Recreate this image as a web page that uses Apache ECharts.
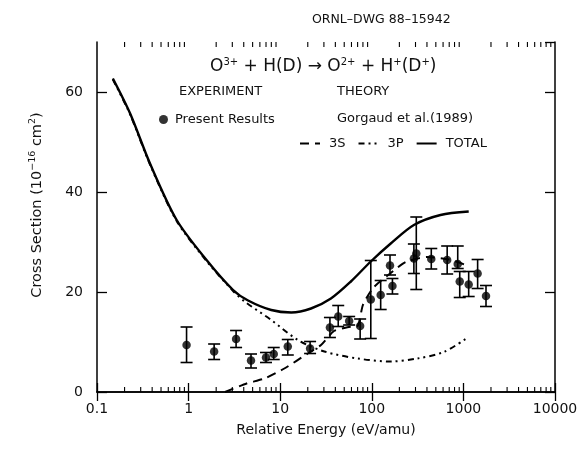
<!DOCTYPE html>
<html><head><meta charset="utf-8">
<script src="https://cdn.jsdelivr.net/npm/echarts@6/dist/echarts.min.js"></script>
<style>html,body{margin:0;padding:0;background:#fff}#c{width:588px;height:449px}</style>
</head><body><div id="c"></div>
<script>
// Experimental data (Present Results)
const expEnergy = [0.95, 1.9, 3.3, 4.8, 7.0, 8.5, 12.1, 21.2, 34.9, 43, 56.6, 74.6, 97.5, 125, 158, 168, 288, 306, 446, 665, 867, 912, 1142, 1430, 1765];
const expValue  = [9.4, 8.1, 10.6, 6.3, 6.9, 7.6, 9.1, 8.7, 12.9, 15.1, 14.2, 13.2, 18.5, 19.4, 25.3, 21.2, 26.7, 27.7, 26.6, 26.4, 25.6, 22.1, 21.5, 23.7, 19.2];
const expLow    = [5.9, 6.5, 8.9, 4.8, 5.9, 6.5, 7.4, 7.7, 10.9, 13.1, 13.4, 10.6, 10.7, 16.5, 23.4, 19.6, 23.7, 20.5, 24.6, 23.6, 24.7, 18.9, 19.1, 20.7, 17.1];
const expHigh   = [13.0, 9.6, 12.3, 7.6, 7.9, 8.9, 10.5, 10.1, 14.9, 17.3, 15.1, 14.6, 26.3, 22.3, 27.4, 22.7, 29.6, 35.0, 28.7, 29.2, 29.2, 24.1, 24.1, 26.5, 21.3];

// Theory (Gorgaud et al. 1989)
const totalEnergy = [0.149, 0.23, 0.379, 0.741, 1.57, 3.06, 4.46, 7.98, 13.2, 21.7, 35.8, 59.1, 97.5, 161, 288, 562, 1143];
const totalValue  = [62.7, 55.7, 45.7, 34.4, 26.4, 20.4, 18.3, 16.4, 15.9, 16.7, 18.7, 22.1, 26.1, 29.7, 33.4, 35.4, 36.1];
const p3Energy = [0.149, 0.23, 0.379, 0.741, 1.57, 3.06, 4.09, 7.98, 15.6, 30.3, 70, 161, 314, 611, 1097];
const p3Value  = [62.5, 55.5, 45.5, 34.2, 26.2, 20.2, 18.1, 14.4, 10.4, 8.1, 6.7, 6.1, 6.7, 8.0, 10.8];
const s3Energy = [2.5, 4.3, 6.75, 11.1, 20.0, 27.9, 38.6, 56, 70, 80, 103, 161, 234, 400, 700, 1100];
const s3Value  = [0, 1.7, 2.7, 4.7, 7.7, 9.4, 12.2, 13.0, 13.2, 17.4, 20.8, 23.8, 26.0, 27.0, 26.5, 25.3];

// Axis
const xTickLabels = ['0.1', '1', '10', '100', '1000', '10000'];
const yTicks = [0, 20, 40, 60];
const decades = [0.1, 1, 10, 100, 1000];
const minorMult = [2, 3, 4, 5, 6, 7, 8, 9];

const FONT = 'DejaVu Sans';
const INK = '#111';
const zip = (a, b) => a.map((v, i) => [v, b[i]]);
const minorTicks = [];
decades.forEach(d => minorMult.forEach(m => minorTicks.push([d * m, 0])));

const chart = echarts.init(document.getElementById('c'));
const axisLineStyle = { color: '#000', width: 1.5 };
const ts = (size) => ({ fontSize: size, fontWeight: 'normal', fontFamily: FONT, color: INK });

chart.setOption({
  backgroundColor: '#fff',
  animation: false,
  textStyle: { fontFamily: FONT, color: INK },
  grid: { left: 97, right: 33, top: 42, bottom: 57 },
  title: [
    { text: 'ORNL\u2013DWG 88\u201315942', left: 307, top: 8, textStyle: ts(12.5) },
    { text: 'O{s|3+} + H(D) \u2192 O{s|2+} + H{s|+}(D{s|+})', left: 205, top: 52,
      textStyle: Object.assign(ts(17), {
        rich: { s: { fontSize: 10, fontFamily: FONT, color: INK, verticalAlign: 'bottom', padding: [0, 0, 10, 0] } } }) },
    { text: 'EXPERIMENT', left: 174, top: 80, textStyle: ts(13) },
    { text: 'THEORY', left: 332, top: 80, textStyle: ts(13) },
    { text: 'Gorgaud et al.(1989)', left: 332, top: 107, textStyle: ts(13) }
  ],
  legend: [
    { data: ['Present Results'], left: 154, top: 108, icon: 'circle', itemWidth: 13, itemHeight: 9,
      textStyle: ts(13) },
    { data: ['3S', '3P', 'TOTAL'], left: 294, top: 132, itemWidth: 20, itemHeight: 10, itemGap: 12,
      itemStyle: { opacity: 0 },
      textStyle: Object.assign(ts(13), { padding: [0, 0, 0, 4] }) }
  ],
  xAxis: [
    { type: 'log', logBase: 10, min: 0.1, max: 10000, position: 'bottom',
      name: 'Relative Energy (eV/amu)', nameLocation: 'middle', nameGap: 31,
      nameTextStyle: ts(14),
      axisLine: { lineStyle: axisLineStyle },
      axisTick: { inside: true, length: 9, lineStyle: { color: '#000', width: 1.3 } },
      axisLabel: Object.assign(ts(14), { margin: 10,
        formatter: v => { const i = Math.round(Math.log10(v)) + 1; return xTickLabels[i] !== undefined ? xTickLabels[i] : ''; } }),
      splitLine: { show: false } },
    { type: 'log', logBase: 10, min: 0.1, max: 10000, position: 'top',
      axisLine: { lineStyle: axisLineStyle },
      axisTick: { inside: true, length: 9, lineStyle: { color: '#000', width: 1.3 } },
      axisLabel: { show: false }, splitLine: { show: false } }
  ],
  yAxis: [
    { type: 'value', min: 0, max: 70, interval: 20, position: 'left',
      name: 'Cross Section (10{s|\u221216} cm{s|2})', nameLocation: 'middle', nameGap: 50,
      nameTextStyle: Object.assign(ts(14.5), { padding: [0, 0, 0, 24],
        rich: { s: { fontSize: 9.5, fontFamily: FONT, color: INK, verticalAlign: 'bottom', padding: [0, 0, 9, 0] } } }),
      axisLine: { lineStyle: axisLineStyle },
      axisTick: { inside: true, length: 10, lineStyle: { color: '#000', width: 1.3 } },
      axisLabel: Object.assign(ts(14), { margin: 14, showMaxLabel: false,
        formatter: v => yTicks.indexOf(v) >= 0 ? String(v) : '' }),
      splitLine: { show: false } },
    { type: 'value', min: 0, max: 70, interval: 20, position: 'right',
      axisLine: { lineStyle: axisLineStyle },
      axisTick: { inside: true, length: 10, lineStyle: { color: '#000', width: 1.3 } },
      axisLabel: { show: false }, splitLine: { show: false } }
  ],
  series: [
    { name: 'minor', type: 'custom', silent: true, data: minorTicks, clip: false,
      renderItem: (params, api) => {
        const b = api.coord([api.value(0), 0]);
        const t = api.coord([api.value(0), 70]);
        const st = { stroke: '#000', lineWidth: 1.1 };
        return { type: 'group', children: [
          { type: 'line', shape: { x1: b[0], y1: b[1], x2: b[0], y2: b[1] - 5 }, style: st },
          { type: 'line', shape: { x1: t[0], y1: t[1], x2: t[0], y2: t[1] + 5 }, style: st }
        ] };
      } },
    { name: 'TOTAL', type: 'line', data: zip(totalEnergy, totalValue), smooth: 0.3, symbol: 'none',
      lineStyle: { color: '#000', width: 2.4 }, itemStyle: { color: '#000' } },
    { name: '3P', type: 'line', data: zip(p3Energy, p3Value), smooth: 0.3, symbol: 'none',
      lineStyle: { color: '#000', width: 2, type: [6, 4, 2, 4, 2, 4] }, itemStyle: { color: '#000' } },
    { name: '3S', type: 'line', data: zip(s3Energy, s3Value), smooth: 0.2, symbol: 'none',
      lineStyle: { color: '#000', width: 2, type: [9, 6] }, itemStyle: { color: '#000' } },
    { name: 'errors', type: 'custom', silent: true,
      data: expEnergy.map((e, i) => [e, expLow[i], expHigh[i]]),
      encode: { x: 0, y: [1, 2] },
      renderItem: (params, api) => {
        const lo = api.coord([api.value(0), api.value(1)]);
        const hi = api.coord([api.value(0), api.value(2)]);
        const w = 6;
        const st = { stroke: '#000', lineWidth: 1.6 };
        return { type: 'group', children: [
          { type: 'line', shape: { x1: lo[0], y1: lo[1], x2: hi[0], y2: hi[1] }, style: st },
          { type: 'line', shape: { x1: lo[0] - w, y1: lo[1], x2: lo[0] + w, y2: lo[1] }, style: st },
          { type: 'line', shape: { x1: hi[0] - w, y1: hi[1], x2: hi[0] + w, y2: hi[1] }, style: st }
        ] };
      } },
    { name: 'Present Results', type: 'scatter', data: zip(expEnergy, expValue), symbol: 'circle', symbolSize: 8.5,
      itemStyle: { color: '#000' } }
  ]
});
</script></body></html>
